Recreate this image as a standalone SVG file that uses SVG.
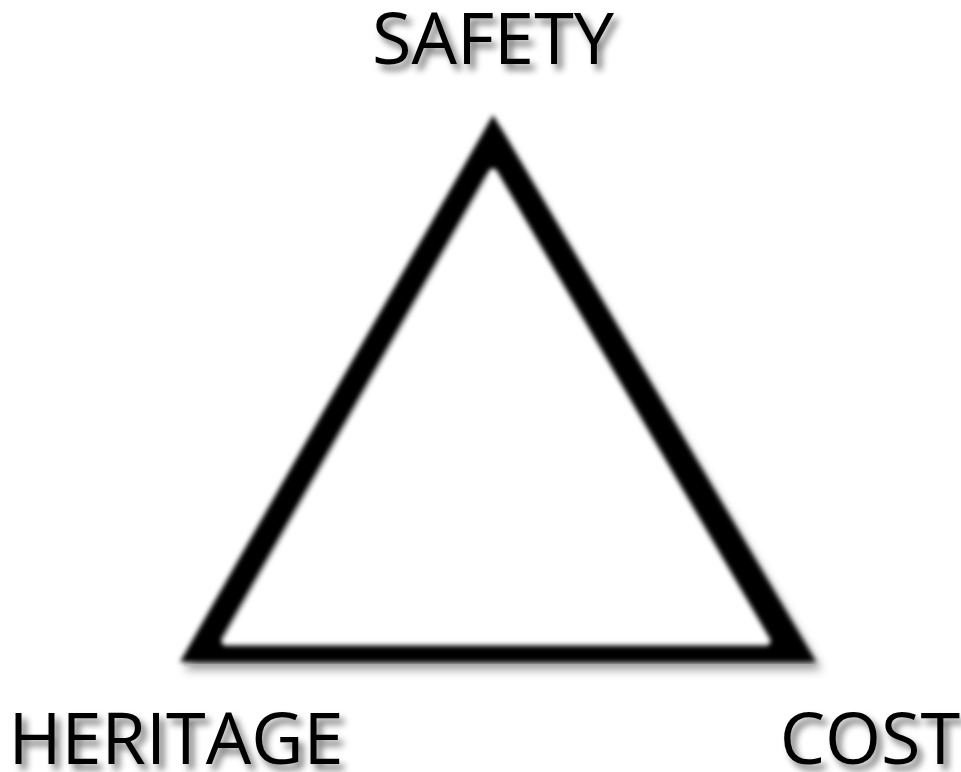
<svg xmlns="http://www.w3.org/2000/svg" width="961" height="772" viewBox="0 0 961 772">
<defs>
<filter id="soft" x="-10%" y="-10%" width="120%" height="120%"><feGaussianBlur stdDeviation="2.4"/></filter>
<filter id="shadow" x="-10%" y="-10%" width="120%" height="130%"><feGaussianBlur stdDeviation="5"/></filter>
<filter id="tshadow" x="-10%" y="-30%" width="125%" height="170%">
<feGaussianBlur in="SourceAlpha" stdDeviation="3.5" result="b"/>
<feOffset in="b" dx="5" dy="6" result="o"/>
<feComponentTransfer in="o" result="s"><feFuncA type="linear" slope="0.55"/></feComponentTransfer>
<feMerge><feMergeNode in="s"/><feMergeNode in="SourceGraphic"/></feMerge>
</filter>
<style>
.lbl{font-family:"Open Sans","Liberation Sans",sans-serif;font-size:72px;fill:#000;filter:url(#tshadow)}
</style>
</defs>
<rect width="961" height="772" fill="#fff"/>
<g id="triangle">
<polygon points="497,126 184,670 822,670" fill="#555" opacity="0.55" filter="url(#shadow)"/>
<polygon points="493,115 180,662 816,662" fill="#000" filter="url(#soft)"/>
<line x1="184" y1="665" x2="814" y2="665" stroke="#bbb" stroke-width="1.5" opacity="0.7"/>
<path d="M493,173 L226,641 L766,641 Z" fill="#fff" stroke="#fff" stroke-width="9" stroke-linejoin="round" filter="url(#soft)"/>
<path d="M487,176 L222,640" stroke="#aaa" stroke-width="1.5" fill="none" opacity="0.8" filter="url(#soft)"/>
</g>
<g id="safety">
<text class="lbl" x="493" y="64" text-anchor="middle">SAFETY</text>
</g>
<g id="heritage">
<text class="lbl" x="176" y="764" text-anchor="middle">HERITAGE</text>
</g>
<g id="cost">
<text class="lbl" x="870" y="764" text-anchor="middle">COST</text>
</g>
</svg>
